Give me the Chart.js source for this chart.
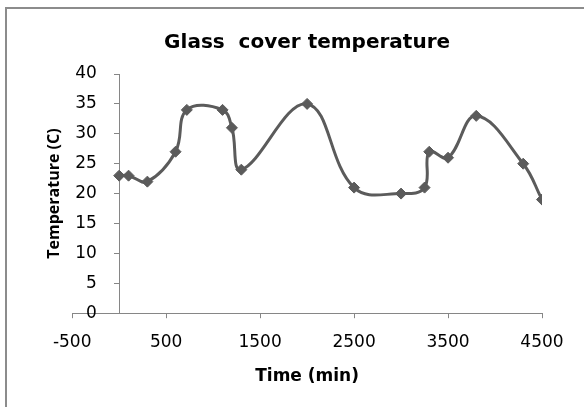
<!DOCTYPE html>
<html>
<head>
<meta charset="utf-8">
<script src="https://cdn.jsdelivr.net/npm/chart.js@4/dist/chart.umd.min.js"></script>
<style>
    html, body { margin: 0; padding: 0; background: #fff; }
    #wrap { position: relative; width: 584px; height: 407px; overflow: hidden; }
    #frame {
        position: absolute; left: 5px; top: 7px; width: 700px; height: 500px;
        border-left: 2px solid #8c8c8c; border-top: 2px solid #8c8c8c;
    }
    canvas { position: absolute; left: 0; top: 0; }
</style>
</head>
<body>
<div id="wrap">
    <div id="frame"></div>
    <canvas id="chart" width="584" height="407"></canvas>
</div>
<script>
// Glass cover temperature over time
const timeMin = [0, 100, 300, 600, 720, 1100, 1200, 1300, 2000, 2500, 3000, 3250, 3300, 3500, 3800, 4300, 4500];
const glassTemp = [23, 23, 22, 27, 34, 34, 31, 24, 35, 21, 20, 21, 27, 26, 33, 25, 19];

const xTicks = [-500, 500, 1500, 2500, 3500, 4500];
const yTicks = [0, 5, 10, 15, 20, 25, 30, 35, 40];

const axisGrey = '#868686';
const seriesGrey = '#5b5b5b';
const tickFont = { family: "'DejaVu Sans', sans-serif", size: 17 };

const points = timeMin.map((t, i) => ({ x: t, y: glassTemp[i] }));

new Chart(document.getElementById('chart').getContext('2d'), {
    type: 'scatter',
    data: {
        datasets: [{
            label: 'Glass cover',
            data: points,
            xAxisID: 'x',
            yAxisID: 'y',
            showLine: true,
            tension: 0.4,
            borderColor: seriesGrey,
            borderWidth: 3,
            pointStyle: 'rectRot',
            pointRadius: 5.5,
            pointBorderWidth: 1,
            pointBackgroundColor: seriesGrey,
            pointBorderColor: seriesGrey
        }]
    },
    options: {
        responsive: false,
        animation: false,
        layout: { padding: { left: 20, right: 42, top: 10, bottom: 16 } },
        plugins: {
            legend: { display: false },
            tooltip: { enabled: false },
            title: {
                display: true,
                text: 'Glass  cover temperature',
                color: '#000',
                fullSize: false,
                font: { family: "'DejaVu Sans', sans-serif", size: 20, weight: 'bold' },
                padding: { top: 21, bottom: 19 }
            }
        },
        scales: {
            x: {
                type: 'linear',
                position: 'bottom',
                min: -500,
                max: 4500,
                afterBuildTicks: s => { s.ticks = xTicks.map(v => ({ value: v })); },
                border: { display: true, color: axisGrey, width: 1 },
                grid: { drawOnChartArea: false, drawTicks: true, tickLength: 5, color: axisGrey },
                ticks: {
                    color: '#000', padding: 14, maxRotation: 0, autoSkip: false,
                    font: tickFont,
                    callback: v => String(v)
                },
                title: {
                    display: true,
                    text: 'Time (min)',
                    color: '#000',
                    font: { family: "'DejaVu Sans', sans-serif", size: 17, weight: 'bold' },
                    padding: { top: 0, bottom: 4 }
                }
            },
            // value axis crossing at time 0 (line + tick marks only)
            y: {
                type: 'linear',
                position: { x: 0 },
                min: 0,
                max: 40,
                afterBuildTicks: s => { s.ticks = yTicks.map(v => ({ value: v })); },
                border: { display: true, color: axisGrey, width: 1 },
                grid: { drawOnChartArea: false, drawTicks: true, tickLength: 5, color: axisGrey },
                ticks: { display: false }
            },
            // labels + title for the value axis
            yLeft: {
                axis: 'y',
                type: 'linear',
                position: 'left',
                min: 0,
                max: 40,
                afterBuildTicks: s => { s.ticks = yTicks.map(v => ({ value: v })); },
                border: { display: false },
                grid: { display: false, drawTicks: false },
                ticks: {
                    color: '#000', mirror: true, crossAlign: 'far', padding: 3,
                    font: tickFont
                },
                title: {
                    display: true,
                    text: 'Temperature (C)',
                    color: '#000',
                    font: { family: "'Open Sans', sans-serif", size: 16, weight: 'bold' },
                    padding: { top: 25, bottom: 2 }
                }
            }
        }
    }
});
</script>
</body>
</html>
